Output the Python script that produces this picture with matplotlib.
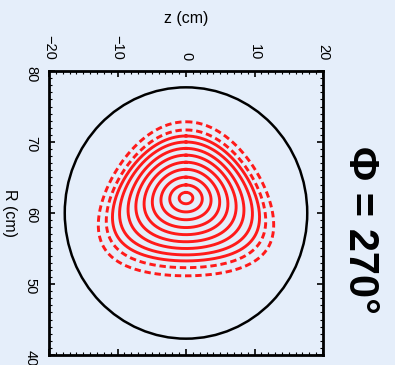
import numpy as np
import matplotlib
matplotlib.use("Agg")
import matplotlib.pyplot as plt
from matplotlib.patches import Circle
from matplotlib.ticker import MultipleLocator

plt.rcParams['font.family'] = ['Liberation Sans', 'DejaVu Sans']

# flux surfaces: minor radius, centre, elongation, triangularity
solid_a = [0.8, 1.9, 3.0, 4.1, 5.1, 6.1, 7.05, 7.95, 8.8]
solid_r0 = [62.1, 62.05, 62.05, 62.05, 62.05, 62.05, 62.05, 62.05, 62.05]
solid_kappa = [1.25, 1.25, 1.22, 1.2, 1.2, 1.2, 1.2, 1.22, 1.22]
solid_delta = [0.0, 0.04, 0.08, 0.12, 0.15, 0.19, 0.23, 0.27, 0.3]

dashed_a = [9.7, 10.85]
dashed_r0 = [62.0, 62.0]
dashed_kappa = [1.2, 1.18]
dashed_delta = [0.32, 0.34]

# vessel wall
wall_z0, wall_r0, wall_radius = 0.0, 60.0, 17.7

z_ticks = [-20, -10, 0, 10, 20]
r_ticks = [40, 50, 60, 70, 80]

bg = '#e5eefa'


def surface(a, r0, kappa, delta):
    t = np.linspace(0, 2 * np.pi, 400)
    r = r0 + a * np.cos(t + np.arcsin(delta) * np.sin(t))
    z = kappa * a * np.sin(t)
    return z, r


fig = plt.figure(figsize=(3.95, 3.65), dpi=100, facecolor=bg)
ax = fig.add_axes([49 / 395, 10 / 365, 274 / 395, 284 / 365])
ax.set_facecolor(bg)

ax.add_patch(Circle((wall_z0, wall_r0), wall_radius, fill=False, ec='black', lw=1.8))

for a, r0, k, d in zip(solid_a, solid_r0, solid_kappa, solid_delta):
    z, r = surface(a, r0, k, d)
    ax.plot(z, r, color='#ff1a1a', lw=2.1)

for a, r0, k, d in zip(dashed_a, dashed_r0, dashed_kappa, dashed_delta):
    z, r = surface(a, r0, k, d)
    ax.plot(z, r, color='#ff1a1a', lw=2.1, linestyle=(0, (2.2, 1.3)))

ax.set_xlim(-20, 20)
ax.set_ylim(40, 80)
ax.set_xticks(z_ticks)
ax.set_yticks(r_ticks)
ax.xaxis.set_minor_locator(MultipleLocator(1))
ax.yaxis.set_minor_locator(MultipleLocator(1))
ax.tick_params(which='both', direction='in', top=True, bottom=True, left=True, right=True,
               labeltop=True, labelbottom=False, labelleft=True, labelright=False)
ax.tick_params(which='major', length=4, width=1.2, pad=8, labelsize=10.5)
ax.tick_params(which='minor', length=2, width=0.8)
for lab in ax.get_xticklabels() + ax.get_yticklabels():
    lab.set_rotation(-90)
for sp in ax.spines.values():
    sp.set_linewidth(2)

ax.xaxis.set_label_position('top')
ax.set_xlabel('z (cm)', fontsize=11.5)
ax.xaxis.set_label_coords(0.5, 1.17)
ax.set_ylabel('R (cm)', fontsize=11.5, rotation=-90, va='center')
ax.yaxis.set_label_coords(-0.145, 0.5)

fig.text(0.912, 0.37, 'Φ = 270°', rotation=-90, fontsize=30, fontweight='bold',
         ha='center', va='center')

fig.savefig('out.png', dpi=100, facecolor=bg)
